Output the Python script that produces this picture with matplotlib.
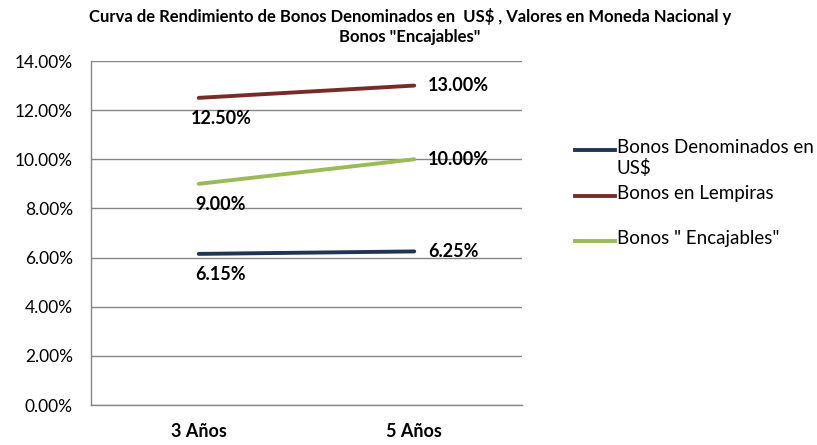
import matplotlib
matplotlib.use("Agg")
import matplotlib.pyplot as plt
from matplotlib.lines import Line2D
from matplotlib.ticker import FuncFormatter

plt.rcParams['font.family'] = ['Lato', 'DejaVu Sans']

# ---- data ----
categories = ["3 Años", "5 Años"]
series_names = ["Bonos Denominados en\nUS$", "Bonos en Lempiras", 'Bonos " Encajables"']
usd = [6.15, 6.25]
lempiras = [12.50, 13.00]
encajables = [9.00, 10.00]
colors = ["#1F3552", "#772C2A", "#9BBB59"]

title = 'Curva de Rendimiento de Bonos Denominados en  US$ , Valores en Moneda Nacional y\nBonos "Encajables"'

fig = plt.figure(figsize=(8.17, 4.45), dpi=100)
ax = fig.add_axes([91 / 817, 1 - 405 / 445, 431 / 817, 344 / 445])

x = list(range(len(categories)))
all_series = [usd, lempiras, encajables]
for vals, col in zip(all_series, colors):
    ax.plot(x, vals, color=col, lw=2.8, solid_capstyle='round')
    # labels: below (and a bit right of) the first point, right of the second
    ax.annotate(f"{vals[0]:.2f}%", (x[0], vals[0]), xytext=(16, -15), textcoords='offset points',
                ha='center', va='center', fontsize=13, fontweight='bold')
    ax.annotate(f"{vals[1]:.2f}%", (x[1], vals[1]), xytext=(10, 0), textcoords='offset points',
                ha='left', va='center', fontsize=13, fontweight='bold')

ax.set_xlim(-0.5, 1.5)
ax.set_ylim(0, 14)
ax.set_yticks([0, 2, 4, 6, 8, 10, 12, 14])
ax.yaxis.set_major_formatter(FuncFormatter(lambda v, p: f"{v:.2f}%"))
ax.set_xticks(x)
ax.set_xticklabels(categories, fontweight='bold', fontsize=13)
ax.tick_params(axis='y', labelsize=12.5, length=0, pad=13)
ax.tick_params(axis='x', length=0, pad=13)
ax.grid(axis='y', color='#868686', lw=1)
ax.set_axisbelow(True)
for s in ['top', 'right']:
    ax.spines[s].set_visible(False)
for s in ['left', 'bottom']:
    ax.spines[s].set_color('#868686')
    ax.spines[s].set_linewidth(1)

fig.text(410 / 817, 1 - 8 / 445, title, ha='center', va='top',
         fontsize=12, fontweight='bold', linespacing=1.3)

# legend drawn by hand to match the excel layout
leg_y = [150, 196, 241]
for name, col, yy in zip(series_names, colors, leg_y):
    fy = 1 - yy / 445
    fig.add_artist(Line2D([575 / 817, 615 / 817], [fy, fy], color=col, lw=2.8,
                          transform=fig.transFigure))
    fig.text(617 / 817, fy + 11 / 445, name, ha='left', va='top', fontsize=13.5,
             linespacing=1.2)

fig.savefig("out.png", dpi=100)
